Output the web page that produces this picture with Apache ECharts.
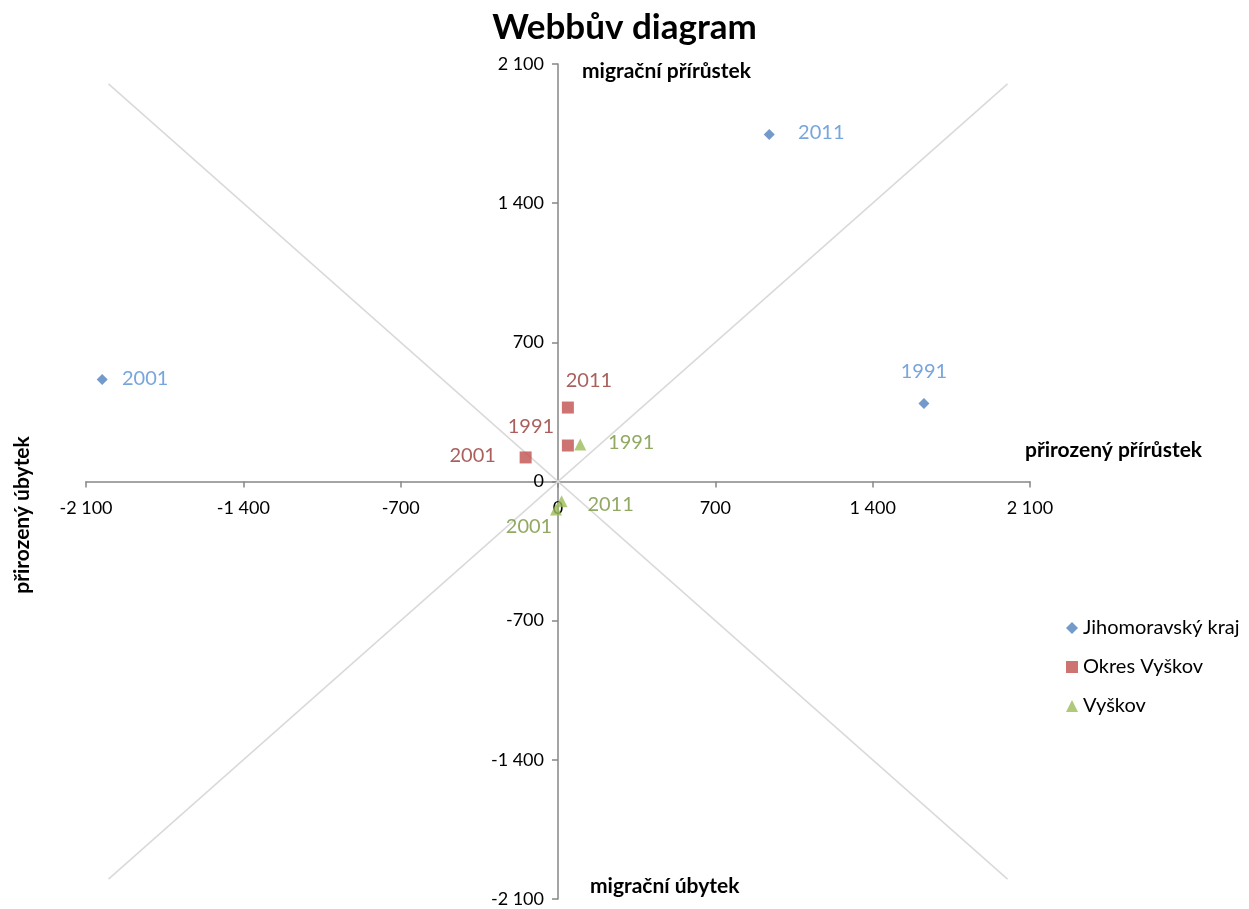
<!DOCTYPE html>
<html>
<head>
<meta charset="utf-8">
<script src="https://cdn.jsdelivr.net/npm/echarts@6/dist/echarts.min.js"></script>
<style>
html, body { margin: 0; padding: 0; background: #fff; }
#chart { width: 1249px; height: 909px; }
</style>
</head>
<body>
<div id="chart"></div>
<script>
// roky u bodů
var years = ['1991', '2001', '2011'];
// přirozený přírůstek (x) a migrační přírůstek (y)
var krajX = [1628, -2028, 940];
var krajY = [392, 513, 1745];
var okresX = [44, -144, 44];
var okresY = [181, 121, 372];
var vyskovX = [99, -9, 16];
var vyskovY = [186, -141, -99];
// diagonály
var diagA = [[-2000, 2000], [2000, -2000]];
var diagB = [[-2000, -2000], [2000, 2000]];

var FONT = 'Lato, "Noto Sans", sans-serif';
var GRID = { left: 86, right: 219, top: 64, bottom: 10 };
var gridW = 1249 - GRID.left - GRID.right;
var gridH = 909 - GRID.top - GRID.bottom;

// posun popisků (střed popisku vůči bodu)
var krajOff = [[0, -32], [43, -1], [52, -2]];
var okresOff = [[-37, -19], [-53, -2], [21, -27]];
var vyskovOff = [[51, -2], [-27, 17], [49, 3]];

function fmt(v) {
    var s = String(Math.abs(v));
    if (s.length > 3) s = s.slice(0, s.length - 3) + ' ' + s.slice(s.length - 3);
    return (v < 0 ? '-' : '') + s;
}

function points(xs, ys, offs) {
    return xs.map(function (x, i) {
        return {
            value: [x, ys[i]],
            name: years[i],
            label: { offset: offs[i] }
        };
    });
}

function lbl(color) {
    return {
        show: true,
        position: 'inside',
        formatter: '{b}',
        color: color,
        fontSize: 20,
        fontFamily: FONT
    };
}

function axis(extra, margin) {
    return Object.assign({
        type: 'value',
        min: -2100,
        max: 2100,
        interval: 700,
        splitLine: { show: false },
        axisLine: { onZero: false, lineStyle: { color: '#868686', width: 1.5 } },
        axisTick: { show: true, length: 6, lineStyle: { color: '#868686', width: 1.5 } },
        axisLabel: {
            color: '#000',
            fontSize: 18,
            fontFamily: FONT,
            formatter: fmt,
            hideOverlap: false,
            margin: margin
        }
    }, extra);
}

var chart = echarts.init(document.getElementById('chart'));
var option = {
    animation: false,
    title: {
        text: 'Webbův diagram',
        left: 'center',
        top: 5,
        textStyle: { fontSize: 35, fontWeight: 'bold', color: '#000', fontFamily: FONT }
    },
    legend: {
        orient: 'vertical',
        left: 1061,
        top: 613,
        itemGap: 19,
        itemWidth: 12,
        itemHeight: 12,
        data: ['Jihomoravský kraj', 'Okres Vyškov', 'Vyškov'],
        textStyle: { fontSize: 20, color: '#000', fontFamily: FONT }
    },
    grid: Object.assign({ outerBoundsMode: 'none', containLabel: false }, GRID),
    // osy vedené středem grafu (nula je uprostřed)
    xAxis: axis({ position: 'bottom', offset: -gridH / 2 }, 18),
    yAxis: axis({ position: 'left', offset: -gridW / 2 }, 14),
    graphic: [
        { type: 'text', left: 582, top: 61, style: { text: 'migrační přírůstek', font: 'bold 21px ' + FONT, fill: '#000' } },
        { type: 'text', left: 590, top: 876, style: { text: 'migrační úbytek', font: 'bold 21px ' + FONT, fill: '#000' } },
        { type: 'text', left: 1025, top: 440, style: { text: 'přirozený přírůstek', font: 'bold 21px ' + FONT, fill: '#000' } },
        { type: 'text', x: 22, y: 515, rotation: Math.PI / 2, style: { text: 'přirozený úbytek', font: 'bold 21px ' + FONT, fill: '#000', align: 'center', verticalAlign: 'middle' } }
    ],
    series: [
        {
            type: 'line', data: diagA, symbol: 'none', silent: true,
            lineStyle: { color: '#D9D9D9', width: 1.5 }, z: 1
        },
        {
            type: 'line', data: diagB, symbol: 'none', silent: true,
            lineStyle: { color: '#D9D9D9', width: 1.5 }, z: 1
        },
        {
            name: 'Jihomoravský kraj',
            type: 'scatter',
            symbol: 'diamond',
            symbolSize: 11,
            itemStyle: { color: '#4F81BD' },
            label: lbl('#558ED5'),
            data: points(krajX, krajY, krajOff)
        },
        {
            name: 'Okres Vyškov',
            type: 'scatter',
            symbol: 'rect',
            symbolSize: 12,
            itemStyle: { color: '#C0504D' },
            label: lbl('#953735'),
            data: points(okresX, okresY, okresOff)
        },
        {
            name: 'Vyškov',
            type: 'scatter',
            symbol: 'triangle',
            symbolSize: 12,
            itemStyle: { color: '#9BBB59' },
            label: lbl('#77933C'),
            data: points(vyskovX, vyskovY, vyskovOff)
        }
    ]
};
chart.setOption(option);
</script>
</body>
</html>
